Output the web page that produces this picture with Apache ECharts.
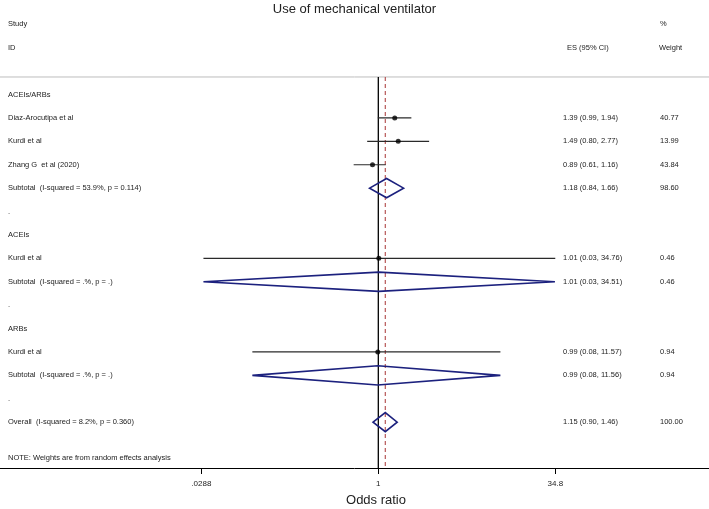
<!DOCTYPE html>
<html>
<head>
<meta charset="utf-8">
<script src="https://cdn.jsdelivr.net/npm/echarts@6/dist/echarts.min.js"></script>
<style>html,body{margin:0;padding:0;background:#fff;}#c{width:709px;height:509px;}</style>
</head>
<body>
<div id="c"></div>
<script>
// ---- data ----
const rowIndex = [0, 1, 2, 3, 4, 5, 6, 7, 8, 9, 10, 11, 12, 13, 14, 15.53];
const rowLabels = [
  'ACEIs/ARBs',
  'Diaz-Arocutipa et al',
  'Kurdi et al',
  'Zhang G  et al (2020)',
  'Subtotal  (I-squared = 53.9%, p = 0.114)',
  '.',
  'ACEIs',
  'Kurdi et al',
  'Subtotal  (I-squared = .%, p = .)',
  '.',
  'ARBs',
  'Kurdi et al',
  'Subtotal  (I-squared = .%, p = .)',
  '.',
  'Overall  (I-squared = 8.2%, p = 0.360)',
  'NOTE: Weights are from random effects analysis'
];
const esText = ['', '1.39 (0.99, 1.94)', '1.49 (0.80, 2.77)', '0.89 (0.61, 1.16)', '1.18 (0.84, 1.66)', '', '',
  '1.01 (0.03, 34.76)', '1.01 (0.03, 34.51)', '', '', '0.99 (0.08, 11.57)', '0.99 (0.08, 11.56)', '', '1.15 (0.90, 1.46)', ''];
const weightText = ['', '40.77', '13.99', '43.84', '98.60', '', '', '0.46', '0.46', '', '', '0.94', '0.94', '', '100.00', ''];

const studyRow = [1, 2, 3, 7, 11];
const studyOR = [1.39, 1.49, 0.89, 1.01, 0.99];
const studyLo = [0.99, 0.80, 0.61, 0.03, 0.08];
const studyHi = [1.94, 2.77, 1.16, 34.76, 11.57];

const poolRow = [4, 8, 12, 14];
const poolOR = [1.18, 1.01, 0.99, 1.15];
const poolLo = [0.84, 0.03, 0.08, 0.90];
const poolHi = [1.66, 34.51, 11.56, 1.46];

const overallOR = 1.15;
const tickValues = [0.0288, 1, 34.8];
const tickLabels = ['.0288', '1', '34.8'];

// ---- layout ----
const X_MIN = -7.586, X_MAX = 6.631;
const Y_MIN = -4.04, Y_MAX = 15.96;
const LINE_TOP = -0.75;
const FONT = '"Liberation Sans", Arial, Helvetica, sans-serif';
const TXT = '#222';
const NAVY = '#1c217e';

const ln = Math.log;
const chart = echarts.init(document.getElementById('c'), null, {renderer: 'canvas'});

const studyData = studyRow.map((r, i) => [ln(studyLo[i]), ln(studyOR[i]), ln(studyHi[i]), r]);
const poolData = poolRow.map((r, i) => [ln(poolLo[i]), ln(poolOR[i]), ln(poolHi[i]), r]);
const textData = rowIndex.map((r, i) => [0, r, i]);

const tickLn = tickValues.map(v => ln(v));

chart.setOption({
  animation: false,
  title: {
    text: 'Use of mechanical ventilator',
    left: 'center', top: -2,
    textStyle: {fontSize: 13, fontWeight: 'normal', color: TXT, fontFamily: FONT}
  },
  grid: {left: 0, right: 0, top: 0, height: 468},
  xAxis: {
    type: 'value', min: X_MIN, max: X_MAX, position: 'bottom',
    splitLine: {show: false},
    axisLine: {show: true, onZero: false, lineStyle: {color: '#000', width: 1}},
    axisTick: {show: true, customValues: tickLn, length: 6, lineStyle: {color: '#000', width: 1}},
    axisLabel: {
      customValues: tickLn, fontSize: 8, color: TXT, fontFamily: FONT, margin: 12,
      formatter: function (v) {
        let best = 0, bd = Infinity;
        tickLn.forEach((t, i) => { const d = Math.abs(t - v); if (d < bd) { bd = d; best = i; } });
        return tickLabels[best];
      }
    }
  },
  yAxis: {type: 'value', inverse: true, min: Y_MIN, max: Y_MAX, show: false},
  graphic: [
    {type: 'text', x: 376, y: 500, style: {text: 'Odds ratio', fontSize: 13, fill: TXT, font: '13px ' + FONT, align: 'center', verticalAlign: 'middle'}}
  ],
  series: [
    // top grey rule + reference lines
    {
      type: 'custom', clip: false, silent: true,
      data: [[0]],
      renderItem: function (params, api) {
        const gl = api.coord([X_MIN, LINE_TOP]);
        const gr = api.coord([X_MAX, LINE_TOP]);
        const v1 = api.coord([0, LINE_TOP]);
        const v2 = api.coord([0, Y_MAX]);
        const r1 = api.coord([ln(overallOR), LINE_TOP]);
        const r2 = api.coord([ln(overallOR), Y_MAX]);
        return {type: 'group', children: [
          {type: 'line', shape: {x1: gl[0], y1: gl[1], x2: gr[0], y2: gr[1]}, style: {stroke: '#bdbdbd', lineWidth: 1}},
          {type: 'line', shape: {x1: v1[0], y1: v1[1], x2: v2[0], y2: v2[1]}, style: {stroke: '#000', lineWidth: 1.3}},
          {type: 'line', shape: {x1: r1[0], y1: r1[1], x2: r2[0], y2: r2[1]}, style: {stroke: '#b04848', lineWidth: 1.1, lineDash: [4, 3]}}
        ]};
      }
    },
    // header texts
    {
      type: 'custom', clip: false, silent: true,
      data: [[0, -3], [0, -2]],
      renderItem: function (params, api) {
        const y = api.coord([0, api.value(1)])[1];
        const ts = {fontSize: 7.5, fill: TXT, font: '7.5px ' + FONT, verticalAlign: 'middle'};
        if (params.dataIndex === 0) {
          return {type: 'group', children: [
            {type: 'text', style: Object.assign({}, ts, {text: 'Study', x: 8, y: y})},
            {type: 'text', style: Object.assign({}, ts, {text: '%', x: 660, y: y})}
          ]};
        }
        return {type: 'group', children: [
          {type: 'text', style: Object.assign({}, ts, {text: 'ID', x: 8, y: y})},
          {type: 'text', style: Object.assign({}, ts, {text: 'ES (95% CI)', x: 567, y: y})},
          {type: 'text', style: Object.assign({}, ts, {text: 'Weight', x: 659, y: y})}
        ]};
      }
    },
    // row texts
    {
      type: 'custom', clip: false, silent: true,
      data: textData,
      renderItem: function (params, api) {
        const i = api.value(2);
        const y = api.coord([0, api.value(1)])[1];
        const ts = {fontSize: 7.5, fill: TXT, font: '7.5px ' + FONT, verticalAlign: 'middle'};
        return {type: 'group', children: [
          {type: 'text', style: Object.assign({}, ts, {text: rowLabels[i], x: 8, y: y})},
          {type: 'text', style: Object.assign({}, ts, {text: esText[i], x: 563, y: y})},
          {type: 'text', style: Object.assign({}, ts, {text: weightText[i], x: 660, y: y})}
        ]};
      }
    },
    // study CI lines
    {
      type: 'custom', clip: false,
      data: studyData,
      renderItem: function (params, api) {
        const a = api.coord([api.value(0), api.value(3)]);
        const b = api.coord([api.value(2), api.value(3)]);
        return {type: 'line', shape: {x1: a[0], y1: a[1], x2: b[0], y2: b[1]}, style: {stroke: '#2a2a2a', lineWidth: 1.2}};
      }
    },
    // study point estimates
    {
      type: 'scatter', symbol: 'circle', symbolSize: 5,
      itemStyle: {color: '#000'},
      data: studyData.map(d => [d[1], d[3]])
    },
    // pooled diamonds
    {
      type: 'custom', clip: false,
      data: poolData,
      renderItem: function (params, api) {
        const r = api.value(3), h = 0.41;
        const p1 = api.coord([api.value(0), r]);
        const p2 = api.coord([api.value(1), r - h]);
        const p3 = api.coord([api.value(2), r]);
        const p4 = api.coord([api.value(1), r + h]);
        return {type: 'polygon', shape: {points: [p1, p2, p3, p4]}, style: {fill: 'none', stroke: NAVY, lineWidth: 1.6, lineJoin: 'miter'}};
      }
    }
  ]
});
</script>
</body>
</html>
